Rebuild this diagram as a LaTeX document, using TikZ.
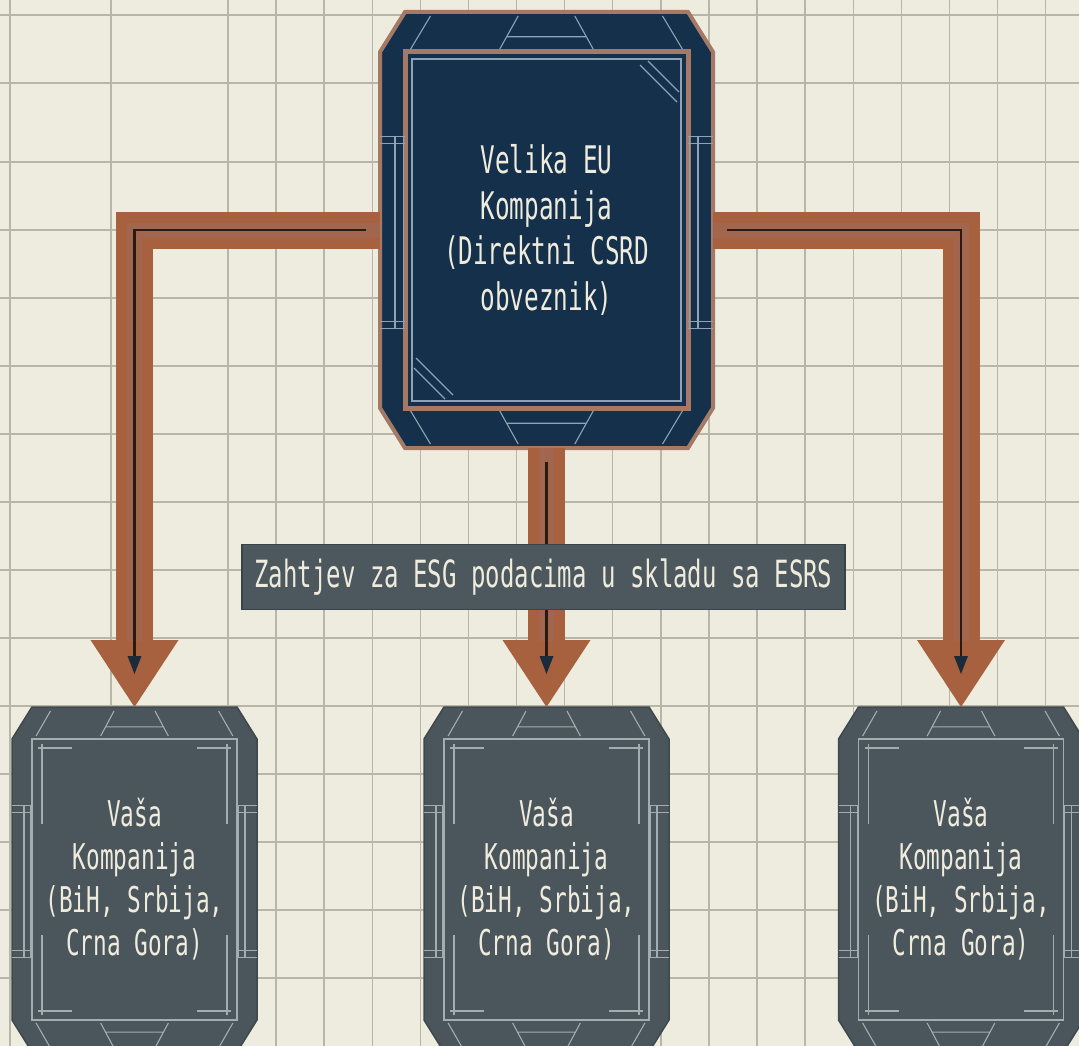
\documentclass[tikz,border=0pt]{standalone}
\usepackage{fontspec}
\usetikzlibrary{arrows.meta}
\newfontfamily\chipfont[FakeStretch=0.64]{DejaVu Sans Mono}

\definecolor{paper}{HTML}{EEEBDF}
\definecolor{gridline}{HTML}{B8B5AB}
\definecolor{navyfill}{HTML}{14304A}
\definecolor{chipedge}{HTML}{A47A66}
\definecolor{navyline}{HTML}{8EA3B5}
\definecolor{greyfill}{HTML}{4A565C}
\definecolor{greyedge}{HTML}{3E484D}
\definecolor{greyline}{HTML}{A3ACB0}
\definecolor{pipebrown}{HTML}{A8613F}
\definecolor{pipemid}{HTML}{A2664E}
\definecolor{wire}{HTML}{2B1A12}
\definecolor{wiretip}{HTML}{1C2B39}
\definecolor{labelfill}{HTML}{4C585E}
\definecolor{labeledge}{HTML}{3A4448}
\definecolor{cream}{HTML}{EFEBDD}

\newcommand\chipframe[6]{%
  \pgfmathsetmacro\chipw{#2-#4}%
  \pgfmathsetmacro\chiph{#3-#5}%
  \begin{scope}[shift={#1}]
    \filldraw[#6 chip] (-#2+#4,-#3) -- (#2-#4,-#3) -- (#2,-#3+#5) -- (#2,#3-#5)
      -- (#2-#4,#3) -- (-#2+#4,#3) -- (-#2,#3-#5) -- (-#2,-#3+#5) -- cycle;
    \draw[#6 frame] (-\chipw,-\chiph) rectangle (\chipw,\chiph);
    \draw[#6 inset] (-\chipw+7,-\chiph+7) rectangle (\chipw-7,\chiph-7);
    \foreach \s in {1,-1} {
      \draw[#6 line, yscale=\s]
        ({-0.82*\chipw},-#3+4) -- ({-0.96*\chipw},-\chiph-3)
        ({0.82*\chipw},-#3+4) -- ({0.96*\chipw},-\chiph-3)
        ({-0.2*\chipw},-#3+4) -- ({-0.33*\chipw},-\chiph-3)
        ({0.2*\chipw},-#3+4) -- ({0.33*\chipw},-\chiph-3)
        ({-0.28*\chipw},{-#3+0.62*#5}) -- ({0.28*\chipw},{-#3+0.62*#5});
      \draw[#6 line, xscale=\s]
        ({-#2+0.6*#4},{-0.43*#3}) -- ({-#2+0.6*#4},{0.45*#3})
        ({-#2+0.95*#4},{-0.43*#3}) -- ({-#2+0.95*#4},{0.45*#3})
        (-#2,{-0.43*#3}) -- (-#2+#4,{-0.43*#3})
        (-#2,{-0.43*#3+7}) -- (-#2+#4,{-0.43*#3+7})
        (-#2,{0.45*#3}) -- (-#2+#4,{0.45*#3})
        (-#2,{0.45*#3-7}) -- (-#2+#4,{0.45*#3-7});
      \draw[#6 slash, scale=\s]
        (\chipw-48,-\chiph+13) -- (\chipw-11,-\chiph+50)
        (\chipw-40,-\chiph+9) -- (\chipw-9,-\chiph+40);
      \foreach \t in {1,-1}
        \draw[#6 corner, xscale=\t, yscale=\s]
          (-\chipw+6,-\chiph+9) -- (-\chipw+40,-\chiph+9)
          (-\chipw+10,-\chiph+5) -- (-\chipw+10,-\chiph+85);
    }
  \end{scope}}

\begin{document}
\begin{tikzpicture}[x=1pt,y=-1pt,
  chiptext/.style={text=cream,align=center,inner sep=0pt,outer sep=0pt},
  navy chip/.style={fill=navyfill,draw=chipedge,line width=4pt},
  navy frame/.style={draw=chipedge,line width=5pt},
  navy line/.style={draw=navyline,line width=1.1pt},
  navy inset/.style={draw=navyline,line width=1.1pt},
  navy slash/.style={draw=navyline,line width=1.1pt},
  navy corner/.style={draw=none},
  grey chip/.style={fill=greyfill,draw=greyedge,line width=1.5pt},
  grey frame/.style={draw=greyline,line width=1.1pt},
  grey line/.style={draw=greyline,line width=1.1pt},
  grey inset/.style={draw=none},
  grey slash/.style={draw=none},
  grey corner/.style={draw=greyline,line width=1.1pt},
  pipe/.style={draw=pipebrown,line width=37pt,
    -{Triangle[width=88pt,length=67pt,line width=0pt]}},
  pipecore/.style={draw=pipemid,line width=15pt,shorten >=66pt},
  pipewire/.style={draw=wire,line width=2.6pt,shorten >=33pt,shorten <=14pt,
    -{Triangle[width=14pt,length=18pt,line width=0pt,fill=wiretip]}}]

\useasboundingbox (0,0) rectangle (1079,1046);
\fill[paper] (0,0) rectangle (1079,1046);
\foreach \y in {15,83,162,230,298,366,434,502,570,638,706,774,842,910,978}
  \draw[gridline,line width=1.4pt] (0,\y) -- (1079,\y);
\foreach \x in {10,111,228}
  \draw[gridline,line width=1.4pt] (\x,0) -- (\x,1046);
\foreach \k in {0,...,16}
  \draw[gridline,line width=1.4pt] ({276+48.1*\k},0) -- ({276+48.1*\k},1046);

\chipframe{(546.5,230)}{166.5}{218}{25}{40}{navy}
\chipframe{(134.5,879.5)}{122.5}{172.5}{20}{32}{grey}
\chipframe{(546.5,879.5)}{122.5}{172.5}{20}{32}{grey}
\chipframe{(961,879.5)}{122.5}{172.5}{20}{32}{grey}

\node[chiptext,minimum width=333pt,minimum height=436pt,
  font=\chipfont\fontsize{38}{45.5}\selectfont] (eu) at (546.5,230)
  {Velika EU\\Kompanija\\(Direktni CSRD\\obveznik)};
\node[chiptext,minimum width=245pt,minimum height=345pt,
  font=\chipfont\fontsize{35.5}{43}\selectfont] (vasa1) at (134.5,879.5)
  {Vaša\\Kompanija\\(BiH, Srbija,\\Crna Gora)};
\node[chiptext,minimum width=245pt,minimum height=345pt,
  font=\chipfont\fontsize{35.5}{43}\selectfont] (vasa2) at (546.5,879.5)
  {Vaša\\Kompanija\\(BiH, Srbija,\\Crna Gora)};
\node[chiptext,minimum width=245pt,minimum height=345pt,
  font=\chipfont\fontsize{35.5}{43}\selectfont] (vasa3) at (961,879.5)
  {Vaša\\Kompanija\\(BiH, Srbija,\\Crna Gora)};

\draw[pipe] (eu.west) -| (vasa1.north);
\draw[pipe] (eu.south) -- (vasa2.north);
\draw[pipe] (eu.east) -| (vasa3.north);
\draw[pipecore] (eu.west) -| (vasa1.north);
\draw[pipecore] (eu.south) -- (vasa2.north);
\draw[pipecore] (eu.east) -| (vasa3.north);
\draw[pipewire] (eu.west) -| (vasa1.north);
\draw[pipewire] (eu.south) -- (vasa2.north);
\draw[pipewire] (eu.east) -| (vasa3.north);

\node[fill=labelfill,draw=labeledge,line width=1.5pt,minimum width=603pt,
  minimum height=65pt,text=cream,font=\chipfont\fontsize{37.5}{40}\selectfont]
  (zahtjev) at (543.5,577) {Zahtjev za ESG podacima u skladu sa ESRS};
\end{tikzpicture}
\end{document}
